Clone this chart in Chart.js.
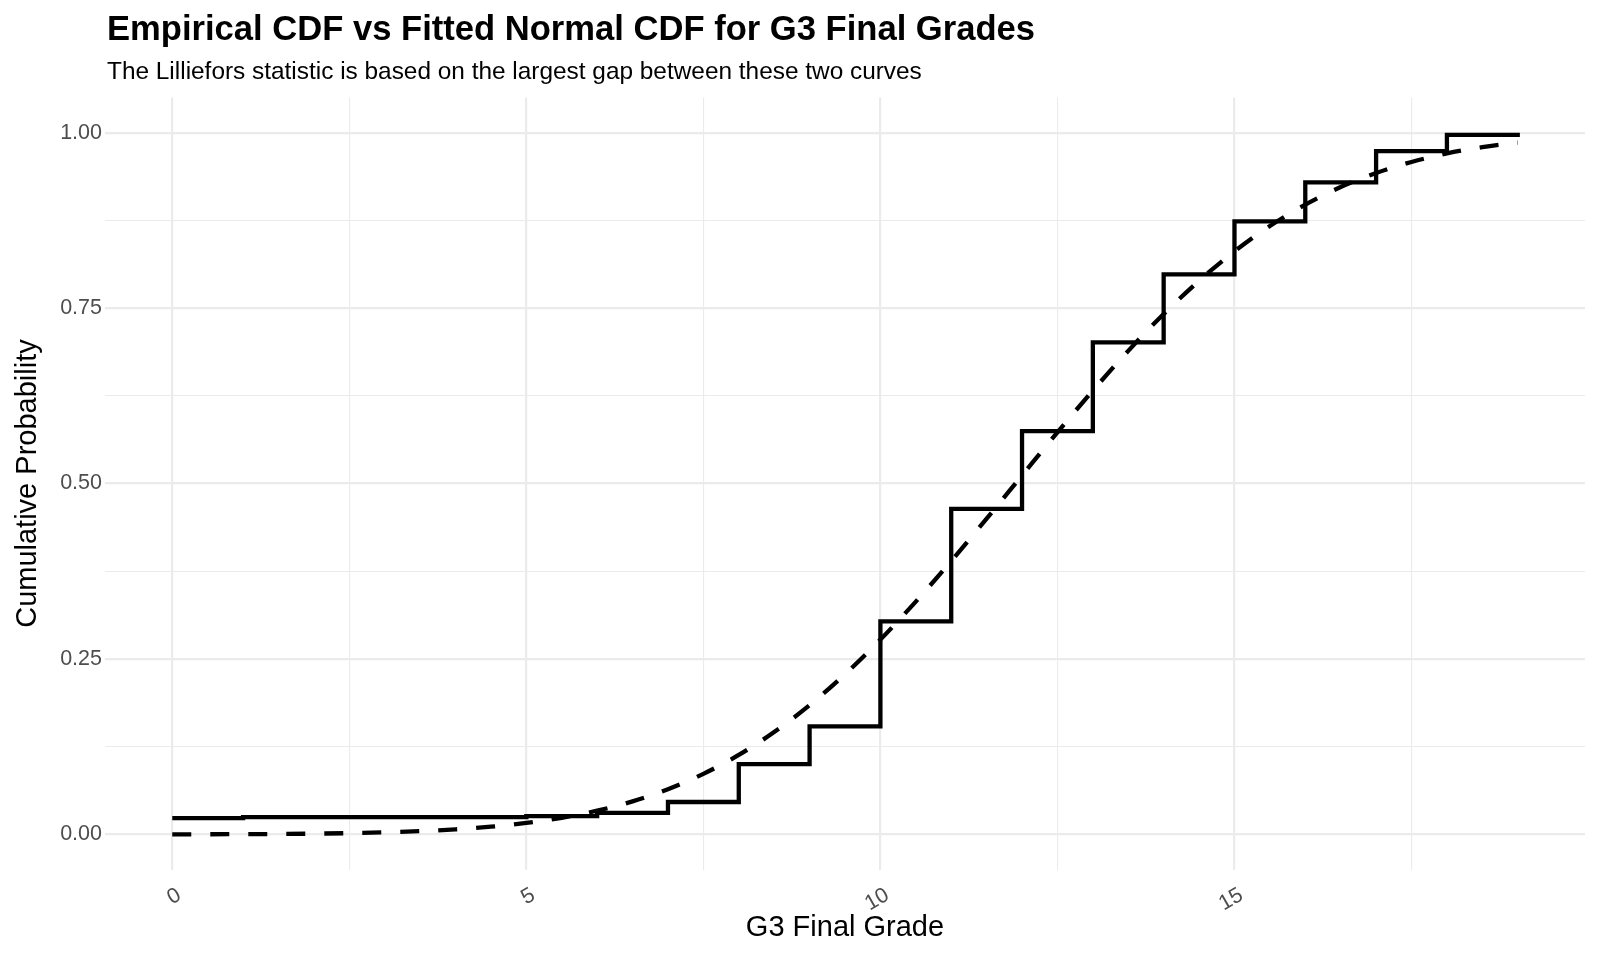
<!DOCTYPE html>
<html>
<head>
<meta charset="utf-8">
<script src="https://cdn.jsdelivr.net/npm/chart.js@4.4.1/dist/chart.umd.min.js"></script>
<style>
  html, body { margin: 0; padding: 0; background: #ffffff; }
  #wrap { width: 1600px; height: 960px; position: relative; }
</style>
</head>
<body>
<div id="wrap"><canvas id="c"></canvas></div>
<script>
// ---- data ----
const titleText = "Empirical CDF vs Fitted Normal CDF for G3 Final Grades";
const subtitleText = "The Lilliefors statistic is based on the largest gap between these two curves";
const xAxisTitle = "G3 Final Grade";
const yAxisTitle = "Cumulative Probability";

// empirical CDF: grade values and cumulative proportion at each
const grades = [0, 1, 5, 6, 7, 8, 9, 10, 11, 12, 13, 14, 15, 16, 17, 18, 19];
const ecdfValues = [0.0231, 0.0247, 0.0262, 0.0308, 0.0462, 0.1002, 0.1541, 0.3035, 0.4638,
                    0.5747, 0.7011, 0.7982, 0.8737, 0.9291, 0.9738, 0.9969, 1.0];

// fitted normal CDF sampled along the grade axis
const normalX = [0, 0.5, 1, 1.5, 2, 2.5, 3, 3.5, 4, 4.5, 5, 5.5, 6, 6.5, 7, 7.5, 8, 8.5, 9, 9.5,
                 10, 10.5, 11, 11.5, 12, 12.5, 13, 13.5, 14, 14.5, 15, 15.5, 16, 16.5, 17, 17.5, 18, 18.5, 19];
const normalCdf = [0.0001, 0.0002, 0.0004, 0.0006, 0.0011, 0.0018, 0.0029, 0.0046, 0.0072, 0.0110,
                   0.0163, 0.0237, 0.0338, 0.0471, 0.0644, 0.0863, 0.1133, 0.1459, 0.1842, 0.2282,
                   0.2776, 0.3318, 0.3896, 0.4500, 0.5116, 0.5730, 0.6325, 0.6891, 0.7416, 0.7890,
                   0.8309, 0.8670, 0.8975, 0.9225, 0.9426, 0.9583, 0.9704, 0.9794, 0.9859];

const xGridTicks = [0, 2.5, 5, 7.5, 10, 12.5, 15, 17.5];
const xLabelTicks = [0, 5, 10, 15];
const yGridTicks = [0, 0.125, 0.25, 0.375, 0.5, 0.625, 0.75, 0.875, 1];
const yLabelTicks = [0, 0.25, 0.5, 0.75, 1];

// ---- chart ----
const FONT = "'Liberation Sans', Arial, Helvetica, sans-serif";

const headerPlugin = {
  id: 'header',
  afterDraw(chart) {
    const ctx = chart.ctx;
    ctx.save();
    ctx.fillStyle = '#000000';
    ctx.textAlign = 'left';
    ctx.textBaseline = 'alphabetic';
    ctx.font = "bold 34.6px " + FONT;
    ctx.fillText(titleText, 107, 40);
    ctx.font = "24.4px " + FONT;
    ctx.fillText(subtitleText, 107, 78.5);
    ctx.restore();
  }
};

const ecdfData = grades.map((g, i) => ({ x: g, y: ecdfValues[i] }));
const normalData = normalX.map((g, i) => ({ x: g, y: normalCdf[i] }));

const isIn = (arr, v) => arr.some(a => Math.abs(a - v) < 1e-9);

new Chart(document.getElementById('c'), {
  type: 'line',
  data: {
    datasets: [
      {
        label: 'Empirical CDF',
        data: ecdfData,
        borderColor: '#000000',
        borderWidth: 4.3,
        stepped: 'before',
        pointRadius: 0,
        fill: false,
        borderCapStyle: 'butt',
        borderJoinStyle: 'miter'
      },
      {
        label: 'Fitted Normal CDF',
        data: normalData,
        borderColor: '#000000',
        borderWidth: 4.3,
        borderDash: [19, 19],
        cubicInterpolationMode: 'monotone',
        pointRadius: 0,
        fill: false,
        borderCapStyle: 'butt'
      }
    ]
  },
  options: {
    responsive: true,
    maintainAspectRatio: false,
    animation: false,
    devicePixelRatio: 1,
    layout: { padding: { top: 97.6, right: 15, bottom: 0, left: 0 } },
    plugins: {
      legend: { display: false },
      tooltip: { enabled: false },
      title: { display: false }
    },
    scales: {
      x: {
        type: 'linear',
        min: -0.95,
        max: 19.95,
        afterBuildTicks(scale) { scale.ticks = xGridTicks.map(v => ({ value: v })); },
        afterFit(scale) { scale.height = 960 - 869.5; },
        border: { display: false },
        grid: {
          drawTicks: false,
          color: '#ebebeb',
          lineWidth: (c) => (c.tick && isIn(xLabelTicks, c.tick.value)) ? 2.2 : 1.1
        },
        ticks: {
          autoSkip: false,
          minRotation: 30,
          maxRotation: 30,
          padding: 13,
          labelOffset: 7,
          color: '#4d4d4d',
          font: { family: FONT, size: 21.5 },
          callback: (v) => isIn(xLabelTicks, v) ? String(v) : ''
        },
        title: {
          display: true,
          text: xAxisTitle,
          color: '#000000',
          font: { family: FONT, size: 29 },
          padding: { top: 0, bottom: 14.5 }
        }
      },
      y: {
        type: 'linear',
        min: -0.05,
        max: 1.05,
        afterBuildTicks(scale) { scale.ticks = yGridTicks.map(v => ({ value: v })); },
        afterFit(scale) { scale.width = 105; },
        border: { display: false },
        grid: {
          drawTicks: false,
          color: '#ebebeb',
          lineWidth: (c) => (c.tick && isIn(yLabelTicks, c.tick.value)) ? 2.2 : 1.1
        },
        ticks: {
          autoSkip: false,
          padding: 3,
          color: '#4d4d4d',
          font: { family: FONT, size: 21.5 },
          callback: (v) => isIn(yLabelTicks, v) ? v.toFixed(2) : ''
        },
        title: {
          display: true,
          text: yAxisTitle,
          color: '#000000',
          font: { family: FONT, size: 29 },
          padding: { top: 10.2, bottom: 0 }
        }
      }
    }
  },
  plugins: [headerPlugin]
});
</script>
</body>
</html>
